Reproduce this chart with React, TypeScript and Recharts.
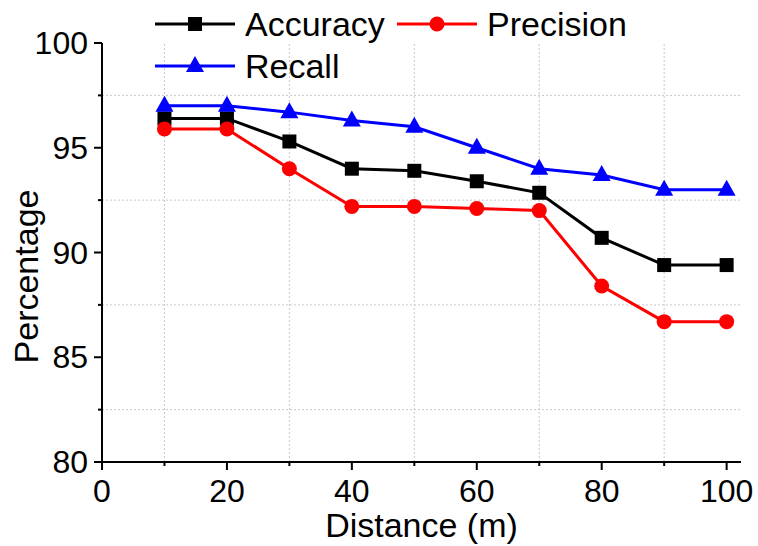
import { LineChart, Line, XAxis, YAxis, ReferenceLine, Legend, Label } from 'recharts';

const FONT = '"Liberation Sans", Arial, sans-serif';

const distance = [10, 20, 30, 40, 50, 60, 70, 80, 90, 100];
const accuracy = [96.4, 96.4, 95.3, 94.0, 93.9, 93.4, 92.85, 90.7, 89.4, 89.4];
const precision = [95.9, 95.9, 94.0, 92.2, 92.2, 92.1, 92.0, 88.4, 86.7, 86.7];
const recall = [97.0, 97.0, 96.7, 96.3, 96.0, 95.0, 94.0, 93.7, 93.0, 93.0];

const xTicks = [0, 10, 20, 30, 40, 50, 60, 70, 80, 90, 100];
const yTicks = [80, 82.5, 85, 87.5, 90, 92.5, 95, 97.5, 100];
const xGrid = [10, 30, 50, 70, 90];
const yGrid = [82.5, 87.5, 92.5, 97.5];

const data = distance.map((d, i) => ({
  distance: d,
  accuracy: accuracy[i],
  precision: precision[i],
  recall: recall[i],
}));

function Square({ cx, cy, color }: any) {
  return <rect x={cx - 7} y={cy - 7} width={14} height={14} fill={color} />;
}
function Circle({ cx, cy, color }: any) {
  return <circle cx={cx} cy={cy} r={7.5} fill={color} />;
}
function Triangle({ cx, cy, color }: any) {
  return <polygon points={`${cx},${cy - 10} ${cx - 9},${cy + 6} ${cx + 9},${cy + 6}`} fill={color} />;
}

const series = [
  { key: 'accuracy', name: 'Accuracy', color: '#000000', Marker: Square },
  { key: 'precision', name: 'Precision', color: '#ff0000', Marker: Circle },
  { key: 'recall', name: 'Recall', color: '#0000ff', Marker: Triangle },
];

function XTick({ x, y, payload }: any) {
  const major = payload.value % 20 === 0;
  return (
    <g>
      <line x1={x} x2={x} y1={y} y2={y + (major ? 8 : 4)} stroke="#000" strokeWidth={2} />
      {major && (
        <text x={x} y={y + 40} textAnchor="middle" fontSize={32} fontFamily={FONT} fill="#000">
          {payload.value}
        </text>
      )}
    </g>
  );
}

function YTick({ x, y, payload }: any) {
  const major = payload.value % 5 === 0;
  return (
    <g>
      <line x1={x} x2={x - (major ? 8 : 4)} y1={y} y2={y} stroke="#000" strokeWidth={2} />
      {major && (
        <text x={x - 14} y={y + 11} textAnchor="end" fontSize={32} fontFamily={FONT} fill="#000">
          {payload.value}
        </text>
      )}
    </g>
  );
}

function LegendBox() {
  const spots = [
    { x: 155, y: 24 },
    { x: 397, y: 24 },
    { x: 155, y: 66 },
  ];
  return (
    <svg width={758} height={90}>
      {series.map((s, i) => {
        const p = spots[i];
        const M = s.Marker;
        return (
          <g key={s.key}>
            <line x1={p.x} x2={p.x + 80} y1={p.y} y2={p.y} stroke={s.color} strokeWidth={3} />
            <M cx={p.x + 40} cy={p.y} color={s.color} />
            <text x={p.x + 90} y={p.y + 12} fontSize={34} fontFamily={FONT} fill="#000">
              {s.name}
            </text>
          </g>
        );
      })}
    </svg>
  );
}

export default function App() {
  return (
    <div style={{ position: 'absolute', left: 0, top: 0, width: 758, height: 546, background: '#fff' }}>
      <LineChart width={758} height={546} data={data} margin={{ top: 43, right: 17, bottom: 0, left: 0 }}>
        {xGrid.map((v) => (
          <ReferenceLine key={'x' + v} x={v} stroke="#c8c8c8" strokeDasharray="2 2" strokeWidth={1} />
        ))}
        {yGrid.map((v) => (
          <ReferenceLine key={'y' + v} y={v} stroke="#c8c8c8" strokeDasharray="2 2" strokeWidth={1} />
        ))}
        <XAxis
          dataKey="distance"
          type="number"
          domain={[0, 102.3]}
          ticks={xTicks}
          interval={0}
          allowDataOverflow
          height={84}
          tickSize={0}
          tickMargin={0}
          tickLine={false}
          tick={<XTick />}
          axisLine={{ stroke: '#000', strokeWidth: 2 }}
        >
          <Label
            value="Distance (m)"
            position="insideBottom"
            offset={9}
            style={{ fontSize: 34, fontFamily: FONT, fill: '#000' }}
          />
        </XAxis>
        <YAxis
          type="number"
          domain={[80, 100]}
          ticks={yTicks}
          interval={0}
          allowDataOverflow
          width={102}
          tickSize={0}
          tickMargin={0}
          tickLine={false}
          tick={<YTick />}
          axisLine={{ stroke: '#000', strokeWidth: 2 }}
        >
          <Label
            content={({ viewBox }: any) => {
              const cx = viewBox.x + 38;
              const cy = viewBox.y + viewBox.height / 2 + 24;
              return (
                <text
                  x={cx}
                  y={cy}
                  transform={`rotate(-90, ${cx}, ${cy})`}
                  textAnchor="middle"
                  fontSize={34}
                  fontFamily={FONT}
                  fill="#000"
                >
                  Percentage
                </text>
              );
            }}
          />
        </YAxis>
        {series.map((s) => (
          <Line
            key={s.key}
            dataKey={s.key}
            name={s.name}
            stroke={s.color}
            strokeWidth={3}
            isAnimationActive={false}
            dot={(p: any) => <s.Marker key={`${s.key}-${p.index}`} cx={p.cx} cy={p.cy} color={s.color} />}
            activeDot={false}
          />
        ))}
        <Legend
          layout="horizontal"
          verticalAlign="middle"
          align="center"
          wrapperStyle={{ top: 0, left: 0, width: 758, height: 90 }}
          content={() => <LegendBox />}
        />
      </LineChart>
    </div>
  );
}
